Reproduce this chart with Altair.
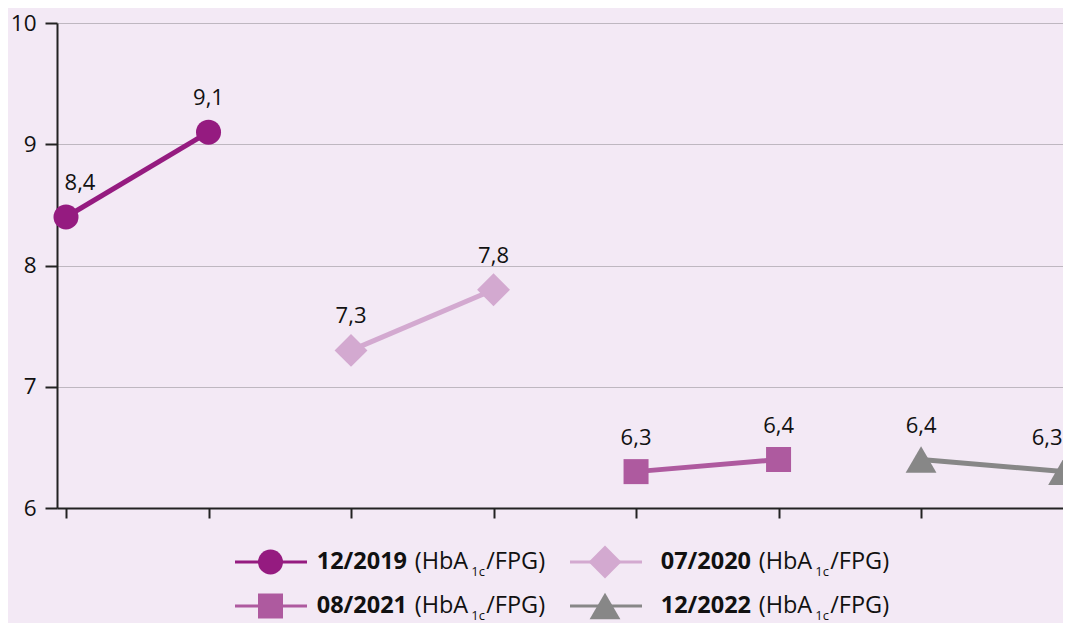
import altair as alt
import pandas as pd

# ---- data ----
series = ["12/2019", "07/2020", "08/2021", "12/2022"]
first_values = [8.4, 7.3, 6.3, 6.4]
second_values = [9.1, 7.8, 6.4, 6.3]
colors = ["#951B80", "#D3A9D0", "#AE5A9F", "#878787"]
shapes = ["circle", "diamond", "square", "triangle-up"]
marker_sizes = [625, 1080, 625, 950]
y_ticks = [6, 7, 8, 9, 10]
legend_suffix = ["(HbA", "1c", "/FPG)"]

rows = []
for k, s in enumerate(series):
    for j, v in enumerate([first_values[k], second_values[k]]):
        rows.append({"series": s, "pos": 2 * k + j, "value": v,
                     "label": f"{v:.1f}".replace(".", ",")})
df = pd.DataFrame(rows)
last_pos = int(df["pos"].max())

FONT = "Open Sans"
BG = "#F3E9F5"

xscale = alt.Scale(domain=[-0.0632, 6.996], nice=False, zero=False)
yscale = alt.Scale(domain=[6, 10], nice=False, zero=False)
cscale = alt.Scale(domain=series, range=colors)

x_enc = alt.X("pos:Q", scale=xscale,
              axis=alt.Axis(values=list(range(8)), labels=False, grid=False,
                            tickSize=10, tickWidth=2, tickColor="#222222",
                            domainColor="#222222", domainWidth=2, title=None))
y_enc = alt.Y("value:Q", scale=yscale,
              axis=alt.Axis(values=y_ticks, grid=True, gridColor="#BEB7C0",
                            gridWidth=1, tickSize=12, tickWidth=2,
                            tickColor="#222222", domainColor="#222222",
                            domainWidth=2, labelFontSize=22.5, labelFont=FONT,
                            labelColor="#111111", labelPadding=9, title=None,
                            format="d"))

base = alt.Chart(df)

lines = base.mark_line(strokeWidth=5).encode(
    x=x_enc, y=y_enc,
    color=alt.Color("series:N", scale=cscale, legend=None),
    detail="series:N",
)

point_layers = []
for k, s in enumerate(series):
    point_layers.append(
        base.transform_filter(alt.datum.series == s).mark_point(
            filled=True, opacity=1, shape=shapes[k], size=marker_sizes[k],
            color=colors[k]
        ).encode(x="pos:Q", y="value:Q")
    )

labels = base.transform_filter(
    f"datum.pos > 0 && datum.pos < {last_pos}"
).mark_text(
    dy=-34, fontSize=22, font=FONT, color="#111111"
).encode(x="pos:Q", y="value:Q", text="label:N")

label_first = base.transform_filter("datum.pos == 0").mark_text(
    dy=-34, dx=14, fontSize=22, font=FONT, color="#111111"
).encode(x="pos:Q", y="value:Q", text="label:N")

label_last = base.transform_filter(f"datum.pos == {last_pos}").mark_text(
    dy=-34, dx=-1, align="right", fontSize=22, font=FONT, color="#111111"
).encode(x="pos:Q", y="value:Q", text="label:N")

# ---- custom legend (pixel layout) ----
one = pd.DataFrame({"a": [0]})
row_y = [539, 583]
col_line = [(178, 250), (513, 585)]
col_marker = [213.5, 548]
col_text = [259.7, 603.7]
legend_layers = []
for k, s in enumerate(series):
    r, c = k // 2, k % 2
    yy = row_y[r]
    legend_layers.append(
        alt.Chart(one).mark_rule(color=colors[k], strokeWidth=3).encode(
            x=alt.value(col_line[c][0]), x2=alt.value(col_line[c][1]),
            y=alt.value(yy))
    )
    legend_layers.append(
        alt.Chart(one).mark_point(shape=shapes[k], filled=True, opacity=1,
                                  size=marker_sizes[k], color=colors[k]).encode(
            x=alt.value(col_marker[c]), y=alt.value(yy))
    )
    tx = col_text[c]
    pieces = [
        (s, 0, 7, 23.5, "bold"),
        (legend_suffix[0], 98, 7, 23.5, "normal"),
        (legend_suffix[1], 154.5, 13.5, 13, "normal"),
        (legend_suffix[2], 169.5, 7, 23.5, "normal"),
    ]
    for txt, dxp, dyp, fs, fw in pieces:
        legend_layers.append(
            alt.Chart(one).mark_text(align="left", baseline="alphabetic",
                                     fontSize=fs, font=FONT, fontWeight=fw,
                                     color="#111111", text=txt).encode(
                x=alt.value(tx + dxp), y=alt.value(yy + dyp))
        )

chart = alt.layer(lines, *point_layers, labels, label_first, label_last,
                  *legend_layers).properties(
    width=1006, height=485,
    autosize=alt.AutoSizeParams(type="none"),
    padding={"left": 49, "top": 15, "right": 0, "bottom": 115},
    background=BG,
).configure_view(stroke=None)

chart.save("out.html", embed_options={"renderer": "svg", "actions": False})
